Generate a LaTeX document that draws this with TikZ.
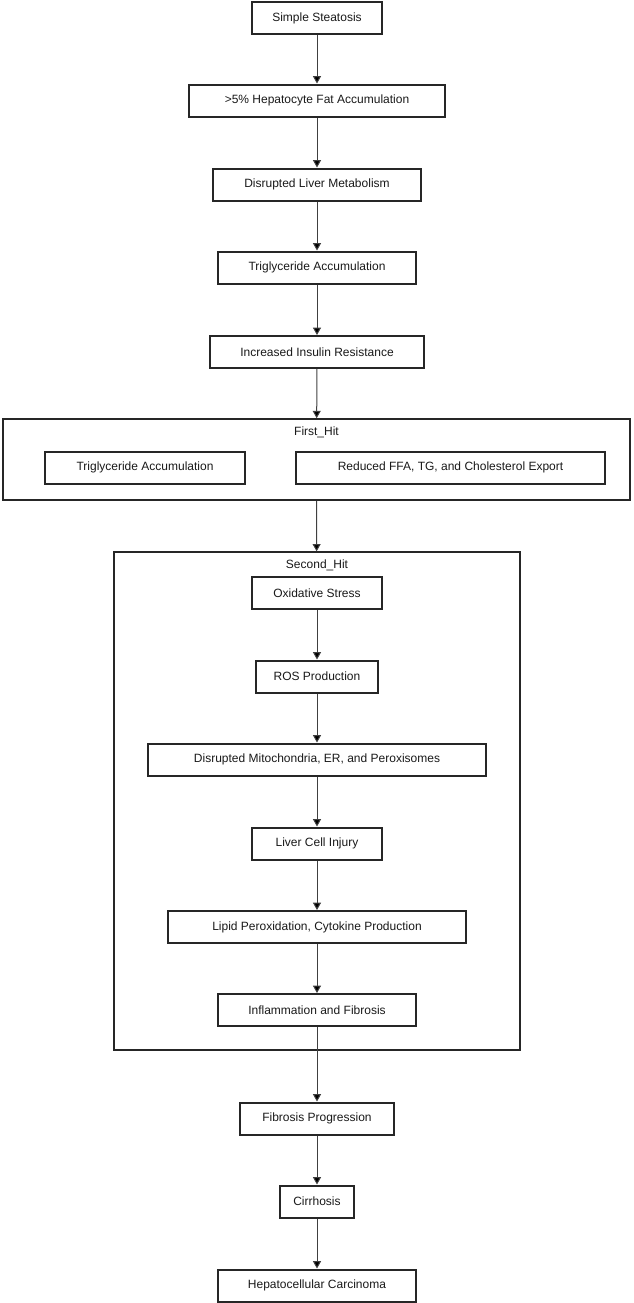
\documentclass[tikz,border=0pt]{standalone}
\usepackage{fontspec}
\setmainfont{Liberation Sans}
\usepackage{tikz}
\usetikzlibrary{arrows.meta}

\begin{document}
\begin{tikzpicture}[
    x=0.75pt, y=-0.75pt,
    box/.style={draw=black!85, line width=1.5pt, minimum height=24pt, inner sep=0pt, text=black!90, font=\fontsize{9}{11}\selectfont},
    cluster/.style={draw=black!85, line width=1.5pt, inner sep=0pt},
    clusterlabel/.style={inner sep=0pt, text=black!90, font=\fontsize{9}{11}\selectfont},
    arrow/.style={-{Triangle[length=5.5pt, width=6pt, fill=black]}, line width=0.75pt, draw=black!75}
]
    \useasboundingbox (0, 0) rectangle (633, 1303);

    % Steatosis chain
    \node[box, minimum width=97.5pt] (steatosis) at (317, 18) {Simple Steatosis};
    \node[box, minimum width=192pt] (fat) at (317, 100.5) {>5\% Hepatocyte Fat Accumulation};
    \node[box, minimum width=156pt] (metabolism) at (317, 184.5) {Disrupted Liver Metabolism};
    \node[box, minimum width=149pt] (trigone) at (317, 267.5) {Triglyceride Accumulation};
    \node[box, minimum width=160.5pt] (insulin) at (317, 352) {Increased Insulin Resistance};

    % First hit
    \node[cluster, minimum width=470pt, minimum height=60.5pt] (firsthit) at (316.5, 459.5) {};
    \node[clusterlabel] (firsthitlabel) at (316.5, 432) {First\_Hit};
    \node[box, minimum width=150pt] (trigtwo) at (145, 467.5) {Triglyceride Accumulation};
    \node[box, minimum width=232pt] (reduced) at (450.5, 467.5) {Reduced FFA, TG, and Cholesterol Export};

    % Second hit
    \node[cluster, minimum width=305pt, minimum height=373pt] (secondhit) at (317, 801) {};
    \node[clusterlabel] (secondhitlabel) at (317, 565) {Second\_Hit};
    \node[box, minimum width=97pt] (oxidative) at (317, 593) {Oxidative Stress};
    \node[box, minimum width=92pt] (ros) at (317, 676.5) {ROS Production};
    \node[box, minimum width=253.5pt] (mito) at (317, 759.5) {Disrupted Mitochondria, ER, and Peroxisomes};
    \node[box, minimum width=97.5pt] (liver) at (317, 843.5) {Liver Cell Injury};
    \node[box, minimum width=223.5pt] (lipid) at (317, 927) {Lipid Peroxidation, Cytokine Production};
    \node[box, minimum width=148.5pt] (inflammation) at (317, 1010) {Inflammation and Fibrosis};

    % Progression
    \node[box, minimum width=115.5pt] (fibprog) at (317, 1118.5) {Fibrosis Progression};
    \node[box, minimum width=55.5pt] (cirrhosis) at (317, 1201.5) {Cirrhosis};
    \node[box, minimum width=148.5pt] (hcc) at (317, 1285.5) {Hepatocellular Carcinoma};

    % Arrows
    \draw[arrow] (steatosis) -- (fat);
    \draw[arrow] (fat) -- (metabolism);
    \draw[arrow] (metabolism) -- (trigone);
    \draw[arrow] (trigone) -- (insulin);
    \draw[arrow] (insulin) -- (firsthit);
    \draw[arrow] (firsthit) -- (secondhit);
    \draw[arrow] (oxidative) -- (ros);
    \draw[arrow] (ros) -- (mito);
    \draw[arrow] (mito) -- (liver);
    \draw[arrow] (liver) -- (lipid);
    \draw[arrow] (lipid) -- (inflammation);
    \draw[arrow] (inflammation) -- (fibprog);
    \draw[arrow] (fibprog) -- (cirrhosis);
    \draw[arrow] (cirrhosis) -- (hcc);

\end{tikzpicture}
\end{document}
